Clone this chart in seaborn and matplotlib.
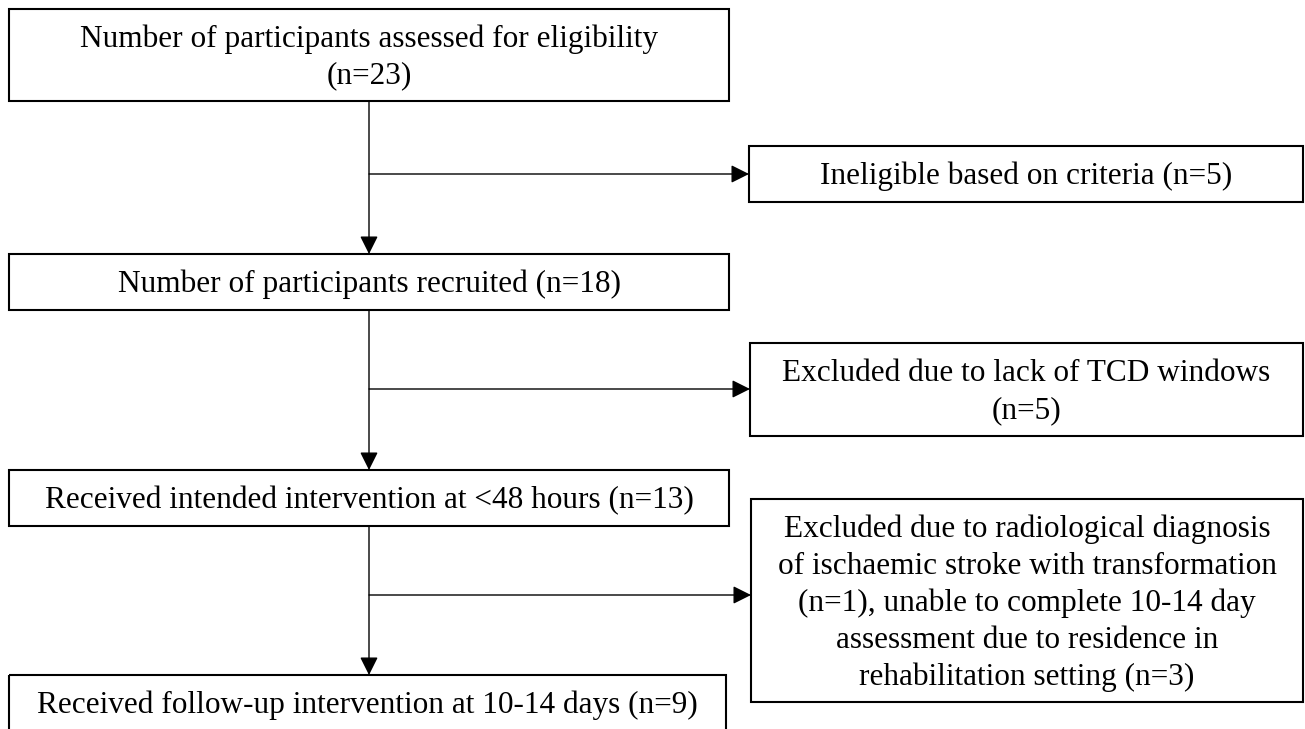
import matplotlib
matplotlib.use("Agg")
import matplotlib.pyplot as plt
import seaborn as sns
from matplotlib.patches import Rectangle

sns.set_style("white")
plt.rcParams['font.family'] = ['Liberation Serif', 'DejaVu Serif']

# box texts, one list entry per line
main_labels = [
    ["Number of participants assessed for eligibility", "(n=23)"],
    ["Number of participants recruited (n=18)"],
    ["Received intended intervention at <48 hours (n=13)"],
    ["Received follow-up intervention at 10-14 days (n=9)"],
]
side_labels = [
    ["Ineligible based on criteria (n=5)"],
    ["Excluded due to lack of TCD windows", "(n=5)"],
    ["Excluded due to radiological diagnosis",
     "of ischaemic stroke with transformation",
     "(n=1), unable to complete 10-14 day",
     "assessment due to residence in",
     "rehabilitation setting (n=3)"],
]

# layout in pixels (x, y, w, h), y measured from the top
main_boxes = [(9, 9, 720, 92), (9, 254, 720, 56), (9, 470, 720, 56), (9, 675, 717, 56)]
side_boxes = [(749, 146, 554, 56), (750, 343, 553, 93), (751, 499, 552, 203)]
branch_y = [174, 389, 595]
trunk_x = 369

FS = 22.5
LINE_GAP = 37


def draw_box(ax, box, lines):
    x, y, w, h = box
    ax.add_patch(Rectangle((x, y), w, h, fill=False, edgecolor='black', lw=1.5))
    cx, cy = x + w / 2, y + h / 2
    n = len(lines)
    for i, line in enumerate(lines):
        by = cy + 10 + (i - (n - 1) / 2) * LINE_GAP
        ax.text(cx, by, line, ha='center', va='baseline', fontsize=FS, color='black')


def arrow(ax, start, end):
    ax.annotate("", xy=end, xytext=start,
                arrowprops=dict(arrowstyle='-|>,head_length=1.1,head_width=0.55',
                                mutation_scale=10, lw=1.0, color='black',
                                shrinkA=0, shrinkB=0))


fig = plt.figure(figsize=(13.05, 7.29), dpi=100)
ax = fig.add_axes([0, 0, 1, 1])
ax.set_xlim(0, 1305)
ax.set_ylim(729, 0)
ax.axis('off')

for box, lines in zip(main_boxes, main_labels):
    draw_box(ax, box, lines)
for box, lines in zip(side_boxes, side_labels):
    draw_box(ax, box, lines)

for i in range(3):
    top = main_boxes[i][1] + main_boxes[i][3]
    bottom = main_boxes[i + 1][1]
    arrow(ax, (trunk_x, top), (trunk_x, bottom))
    arrow(ax, (trunk_x, branch_y[i]), (side_boxes[i][0], branch_y[i]))

fig.savefig('out.png', dpi=100)
plt.close()
